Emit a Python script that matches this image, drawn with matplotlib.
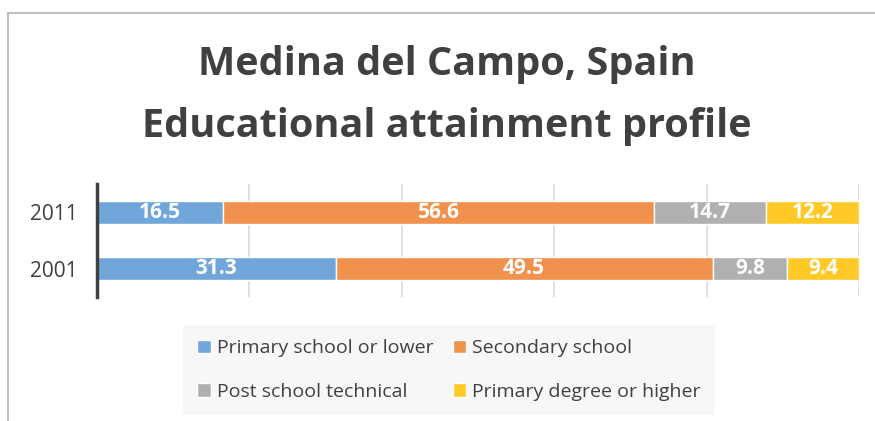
import matplotlib
matplotlib.use("Agg")
import matplotlib.pyplot as plt
from matplotlib.lines import Line2D
import numpy as np

plt.rcParams['font.family'] = ['Open Sans', 'DejaVu Sans']

# data
years = ['2001', '2011']
categories = ['Primary school or lower', 'Secondary school',
              'Post school technical', 'Primary degree or higher']
values = {
    'Primary school or lower': [31.3, 16.5],
    'Secondary school': [49.5, 56.6],
    'Post school technical': [9.8, 14.7],
    'Primary degree or higher': [9.4, 12.2],
}
colors = ['#70A6DA', '#F0914D', '#B0B0B0', '#FFCA28']

fig = plt.figure(figsize=(8.75, 4.21), dpi=100)
ax = fig.add_axes([97 / 875, 1 - 297 / 421, 762 / 875, 113 / 421])

y = np.arange(len(years))
left = np.zeros(len(years))
for cat, col in zip(categories, colors):
    vals = np.array(values[cat])
    bars = ax.barh(y, vals, left=left, height=0.4, color=col,
                   edgecolor='white', linewidth=1, label=cat, zorder=3)
    ax.bar_label(bars, labels=[f'{v:.1f}' for v in vals], label_type='center',
                 color='white', fontsize=15, fontweight='bold')
    left += vals

ax.set_xlim(0, 100)
ax.set_ylim(-0.5, 1.5)
ax.set_yticks(y)
ax.set_yticklabels(years, fontsize=15, color='#404040')
ax.set_xticks([20, 40, 60, 80, 100])
ax.tick_params(axis='x', length=0, labelbottom=False)
ax.tick_params(axis='y', length=0, pad=14)
ax.grid(axis='x', color='#D9D9D9', linewidth=1.2, zorder=0)
for s in ['top', 'right', 'bottom']:
    ax.spines[s].set_visible(False)
ax.spines['left'].set_color('#404040')
ax.spines['left'].set_linewidth(2.5)
ax.spines['left'].set_zorder(4)

# title
fig.text(447 / 875, 1 - 65 / 421, 'Medina del Campo, Spain', ha='center', va='center',
         fontsize=28.5, fontweight='bold', color='#404040')
fig.text(447 / 875, 1 - 127 / 421, 'Educational attainment profile', ha='center', va='center',
         fontsize=28.5, fontweight='bold', color='#404040')

# legend (row-wise order like the original)
handles, labels = ax.get_legend_handles_labels()
order = [0, 2, 1, 3]
leg = fig.legend([handles[i] for i in order], [labels[i] for i in order], ncol=2, loc='center',
                 bbox_to_anchor=(449 / 875, 1 - 370 / 421),
                 frameon=True, fontsize=14, handlelength=0.7, handleheight=0.7,
                 handletextpad=0.3, columnspacing=1.0, labelspacing=1.3,
                 borderpad=0.75, fancybox=False, labelcolor='#404040')
leg.get_frame().set_facecolor('#F5F5F5')
leg.get_frame().set_edgecolor('none')

# chart border
fig.add_artist(Line2D([8 / 875, 1], [1 - 13 / 421] * 2, color='#BFBFBF', linewidth=1.5))
fig.add_artist(Line2D([8 / 875] * 2, [0, 1 - 13 / 421], color='#BFBFBF', linewidth=1.5))

fig.savefig('out.png', dpi=100)
